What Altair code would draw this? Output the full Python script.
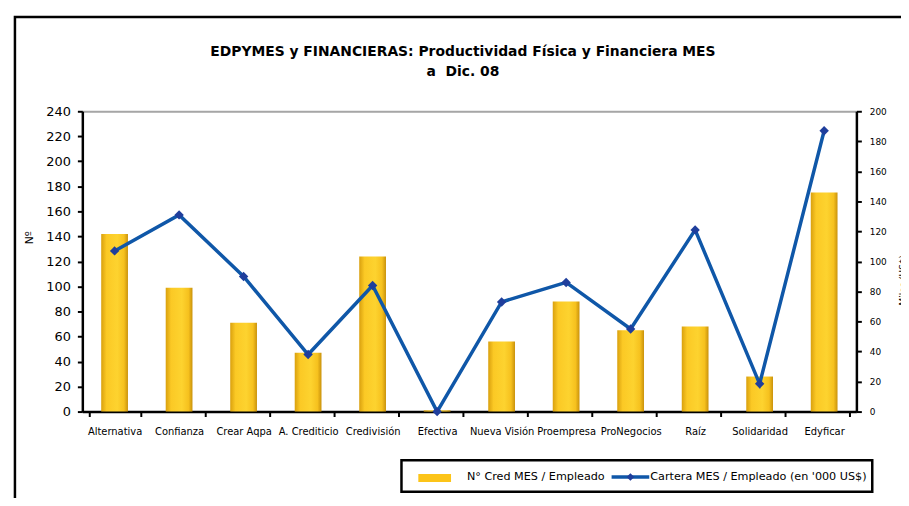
import altair as alt
import pandas as pd

categories = ["Alternativa", "Confianza", "Crear Aqpa", "A. Crediticio", "Credivisión",
              "Efectiva", "Nueva Visión", "Proempresa", "ProNegocios", "Raíz",
              "Solidaridad", "Edyficar"]
creditos = [142, 99, 71, 47, 124, 1, 56, 88, 65, 68, 28, 175]
cartera = [107, 131, 90, 38, 84, 0, 73, 86, 55, 121, 18.5, 187]
left_ticks = list(range(0, 241, 20))
right_ticks = list(range(0, 201, 20))

title_lines = ["EDPYMES y FINANCIERAS: Productividad Física y Financiera MES", "a\u00a0 Dic. 08"]
legend_bar = "N° Cred MES / Empleado"
legend_line = "Cartera MES / Empleado (en '000 US$)"

df = pd.DataFrame({"cat": categories, "cred": creditos, "cart": cartera})
one = pd.DataFrame({"a": [0]})

FONT = "DejaVu Sans"
W, H = 781, 303

xenc = alt.X("cat:N", sort=categories, title=None,
             scale=alt.Scale(paddingInner=0.2, paddingOuter=0.1),
             axis=alt.Axis(labelAngle=0, labelFontSize=10, labelFont=FONT, labelColor="black",
                           tickBand="extent", tickSize=5, tickWidth=2, tickColor="black",
                           domainColor="black", domainWidth=2.5, labelPadding=10))

gold = alt.Gradient(gradient="linear", x1=0, x2=1, y1=0, y2=0,
                    stops=[alt.GradientStop(color="#D9A00E", offset=0),
                           alt.GradientStop(color="#FBC925", offset=0.2),
                           alt.GradientStop(color="#FDD32F", offset=0.6),
                           alt.GradientStop(color="#F6C11E", offset=0.85),
                           alt.GradientStop(color="#C9920C", offset=1)])

frame = alt.Chart(one).mark_rect(fillOpacity=0, stroke="black", strokeWidth=2.5).encode(
    x=alt.value(-68), x2=alt.value(900), y=alt.value(-95), y2=alt.value(500))

title1 = alt.Chart(one).mark_text(align="center", baseline="middle", font=FONT, fontSize=14,
                                  fontWeight="bold", color="black").encode(
    x=alt.value(384), y=alt.value(-60), text=alt.value(title_lines[0]))
title2 = alt.Chart(one).mark_text(align="center", baseline="middle", font=FONT, fontSize=14,
                                  fontWeight="bold", color="black").encode(
    x=alt.value(384), y=alt.value(-40), text=alt.value(title_lines[1]))

bars = alt.Chart(df).mark_bar(size=27, color=gold).encode(
    x=xenc,
    y=alt.Y("cred:Q", title="Nº", scale=alt.Scale(domain=[0, 240], nice=False),
            axis=alt.Axis(orient="left", values=left_ticks, labelFontSize=13, labelFont=FONT,
                          labelColor="black", tickSize=5, tickWidth=2, tickColor="black",
                          domainColor="black", domainWidth=2.5, labelPadding=7,
                          grid=True, gridWidth=2,
                          gridColor={"condition": {"test": "datum.value == 240", "value": "#A6A6A6"},
                                     "value": "transparent"},
                          titleFont=FONT, titleFontSize=11, titleFontWeight="normal",
                          titleColor="black", titleX=-53, titleY=127, titleAngle=270,
                          titleBaseline="middle", titleAlign="center")),
)

yline = alt.Y("cart:Q", title="Miles (US$)", scale=alt.Scale(domain=[0, 200], nice=False),
              axis=alt.Axis(orient="right", values=right_ticks, labelFontSize=9, labelFont=FONT,
                            labelColor="black", tickSize=5, tickWidth=2, tickColor="black",
                            domainColor="black", domainWidth=2.5, labelPadding=8, grid=False,
                            titleFont=FONT, titleFontSize=9, titleFontWeight="normal",
                            titleColor="black", titleX=47, titleY=170, titleAngle=270,
                            titleBaseline="middle", titleAlign="center"))

line = alt.Chart(df).mark_line(color="#0F57A8", strokeWidth=3.5).encode(x=xenc, y=yline)
pts = alt.Chart(df).mark_point(shape="diamond", filled=True, color="#1F3E9C", size=90, opacity=1).encode(
    x=xenc, y=alt.Y("cart:Q", scale=alt.Scale(domain=[0, 200], nice=False), axis=None))

leg_box = alt.Chart(one).mark_rect(fill="white", stroke="black", strokeWidth=2.5).encode(
    x=alt.value(322), x2=alt.value(797), y=alt.value(352), y2=alt.value(384))
leg_sw = alt.Chart(one).mark_rect(fill="#FCC419").encode(
    x=alt.value(339), x2=alt.value(372), y=alt.value(366), y2=alt.value(374))
leg_t1 = alt.Chart(one).mark_text(align="left", baseline="middle", font=FONT, fontSize=11.3,
                                  color="black").encode(
    x=alt.value(388), y=alt.value(369), text=alt.value(legend_bar))
leg_ln = alt.Chart(one).mark_rule(color="#0F57A8", strokeWidth=3.5).encode(
    x=alt.value(534), x2=alt.value(572), y=alt.value(369))
leg_pt = alt.Chart(one).mark_point(shape="diamond", filled=True, color="#1F3E9C", size=60, opacity=1).encode(
    x=alt.value(553), y=alt.value(369))
leg_t2 = alt.Chart(one).mark_text(align="left", baseline="middle", font=FONT, fontSize=11.3,
                                  color="black").encode(
    x=alt.value(573), y=alt.value(369), text=alt.value(legend_line))

chart = alt.layer(frame, title1, title2, bars, line, pts, leg_box, leg_sw, leg_t1, leg_ln, leg_pt,
                  leg_t2).resolve_scale(
    y="independent"
).properties(
    width=W, height=H,
    autosize=alt.AutoSizeParams(type="none"),
    padding={"left": 75, "top": 102, "right": 45, "bottom": 85},
).configure_view(stroke=None).configure(background="white")

chart.save("out.html", embed_options={"renderer": "svg", "actions": False})
